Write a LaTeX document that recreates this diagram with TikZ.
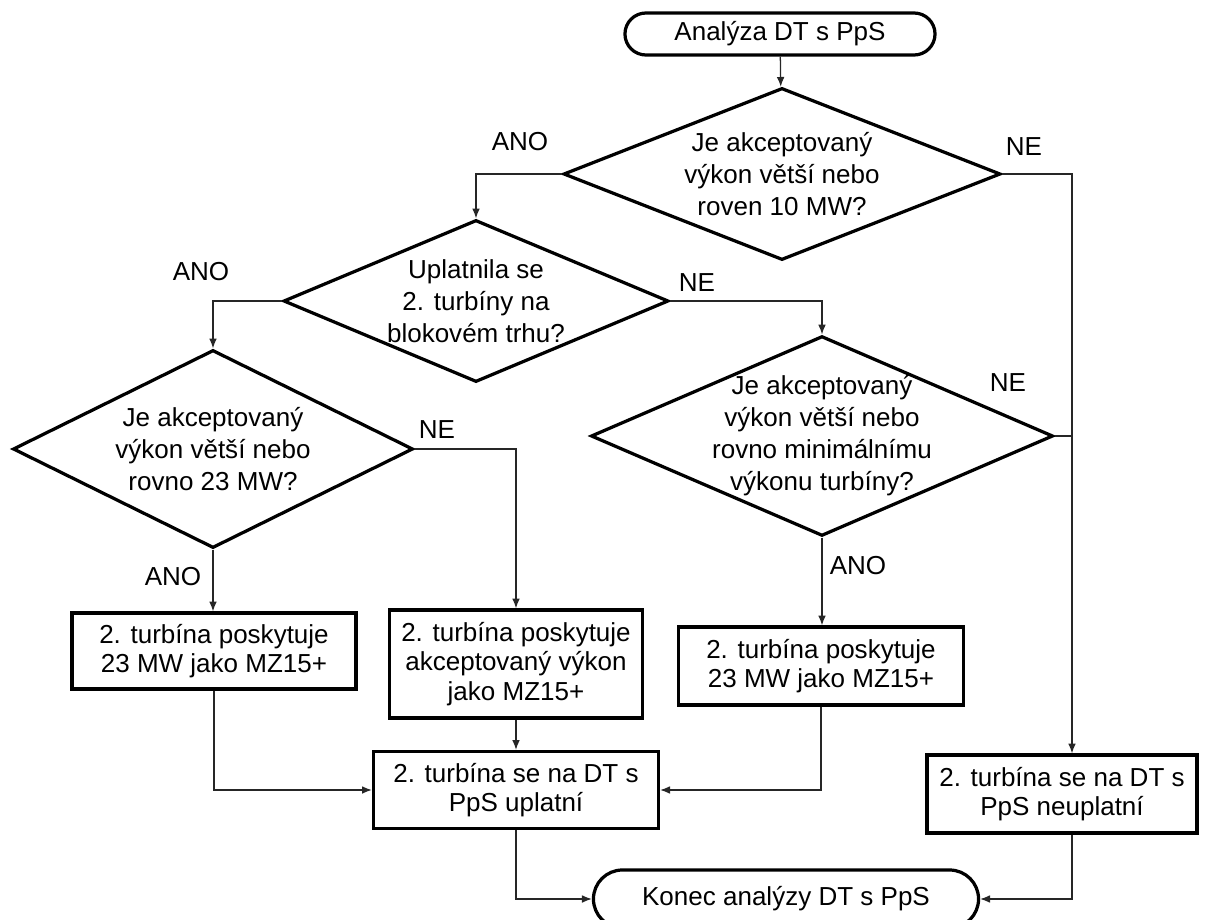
\documentclass[tikz,border=0pt]{standalone}
\usepackage{fontspec}
\setmainfont{Liberation Sans}
\usetikzlibrary{arrows.meta,shapes.geometric,shapes.misc}

\begin{document}
\begin{tikzpicture}[x=0.025cm,y=-0.025cm,
    font=\fontsize{18.5}{22.8}\selectfont,
    >={Latex[length=7pt,width=5.5pt]},
    term/.style={draw,rounded rectangle,line width=2.3pt,inner sep=0pt},
    decision/.style={draw,diamond,line width=2.3pt,align=center,inner sep=-25pt},
    block/.style={draw,rectangle,line width=2.3pt,align=center,inner sep=0pt,
        font=\fontsize{18.5}{21}\selectfont},
    link/.style={->,line width=0.9pt,black!85},
    answer/.style={inner sep=0pt}]
    \useasboundingbox (0,0) rectangle (1205,920);
    \node[term,minimum width=7.75cm,minimum height=1.05cm] (start) at (780,34) {Analýza DT s PpS};
    \node[decision,minimum width=10.925cm,minimum height=4.3cm] (d1) at (782,174)
        {Je akceptovaný\\výkon větší nebo\\roven 10 MW?};
    \node[decision,minimum width=9.625cm,minimum height=4.05cm] (d2) at (476,301)
        {Uplatnila se\\2. turbíny na\\blokovém trhu?};
    \node[decision,minimum width=10cm,minimum height=4.95cm] (d3) at (213,449)
        {Je akceptovaný\\výkon větší nebo\\rovno 23 MW?};
    \node[decision,minimum width=11.55cm,minimum height=4.95cm] (d4) at (822,436)
        {Je akceptovaný\\výkon větší nebo\\rovno minimálnímu\\výkonu turbíny?};
    \node[block,minimum width=7.1cm,minimum height=1.9cm] (b1) at (214,651)
        {2. turbína poskytuje\\23 MW jako MZ15+};
    \node[block,minimum width=6.325cm,minimum height=2.7cm] (b2) at (516,664)
        {2. turbína poskytuje\\akceptovaný výkon\\jako MZ15+};
    \node[block,minimum width=7.125cm,minimum height=1.95cm] (b3) at (821,666)
        {2. turbína poskytuje\\23 MW jako MZ15+};
    \node[block,minimum width=7.125cm,minimum height=1.925cm] (b4) at (516,790)
        {2. turbína se na DT s\\PpS uplatní};
    \node[block,minimum width=6.75cm,minimum height=1.95cm] (b5) at (1062,794)
        {2. turbína se na DT s\\PpS neuplatní};
    \node[term,minimum width=9.625cm,minimum height=1.45cm] (end) at (786,899) {Konec analýzy DT s PpS};
    \coordinate (rail) at (1072,0);

    \node[answer] (ano1) at (520,142) {ANO};
    \node[answer] (ne1) at (1024,147) {NE};
    \node[answer] (ano2) at (201,272) {ANO};
    \node[answer] (ne2) at (697,283) {NE};
    \node[answer] (ne3) at (437,430) {NE};
    \node[answer] (ano3) at (173,577) {ANO};
    \node[answer] (ne4) at (1008,383) {NE};
    \node[answer] (ano4) at (858,566) {ANO};

    \draw[link] (start) -- (d1);
    \draw[link] (d1.west) -| (d2.north);
    \draw[link] (d1.east) -- (d1.east -| rail) -- (rail |- b5.north);
    \draw[link] (d2.west) -| (d3.north);
    \draw[link] (d2.east) -| (d4.north);
    \draw[link] (d3.south) -- (d3.south |- b1.north);
    \draw[link] (d3.east) -| (b2.north);
    \draw[link,-] (d4.east) -- (d4.east -| rail);
    \draw[link] (d4.south) -- (d4.south |- b3.north);
    \draw[link] (b1.south) |- (b4.west);
    \draw[link] (b2.south) -- (b4.north);
    \draw[link] (b3.south) |- (b4.east);
    \draw[link] (b4.south) |- (end.west);
    \draw[link] (rail |- b5.south) |- (end.east);
\end{tikzpicture}
\end{document}
